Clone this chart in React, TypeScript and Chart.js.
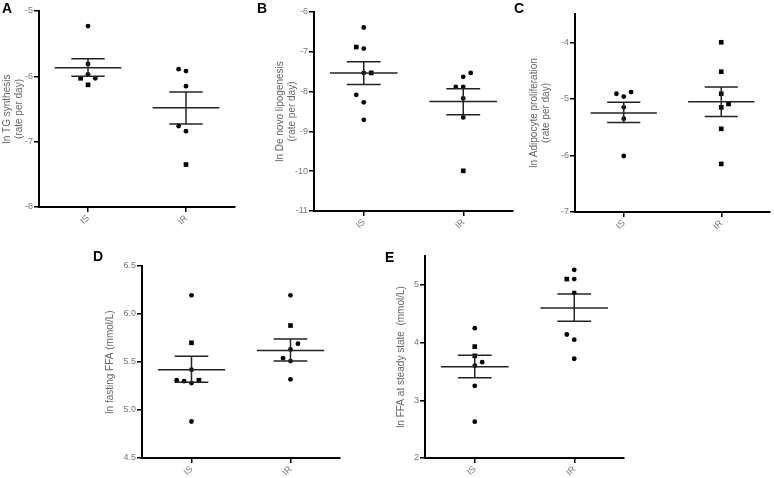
import { useEffect, useRef } from 'react';
import { Chart, registerables } from 'chart.js';

Chart.register(...registerables);

// ---------- DATA ----------
const groups = ['IS', 'IR'];

// A: ln TG synthesis
const tgIS = [-5.23, -5.81, -5.97, -6.03, -6.03, -6.13];
const tgISShape = ['c', 'c', 'c', 's', 'c', 's'];
const tgISJitter = [0, 0, 0, -0.075, 0.075, 0];
const tgIR = [-5.89, -5.92, -6.15, -6.76, -6.84, -7.35];
const tgIRShape = ['c', 'c', 'c', 'c', 'c', 's'];
const tgIRJitter = [-0.075, 0, 0, -0.075, 0, 0];
const tgMean = [-5.87, -6.48];
const tgSemLow = [-6.0, -6.73];
const tgSemHigh = [-5.73, -6.24];

// B: ln De novo lipogenesis
const dnlIS = [-6.39, -6.88, -6.92, -7.53, -7.53, -8.08, -8.27, -8.71];
const dnlISShape = ['c', 's', 'c', 'c', 's', 'c', 'c', 'c'];
const dnlISJitter = [0, -0.075, 0, 0, 0.075, -0.075, 0, 0];
const dnlIR = [-7.53, -7.63, -7.88, -7.88, -8.17, -8.65, -9.99];
const dnlIRShape = ['c', 'c', 'c', 'c', 'c', 'c', 's'];
const dnlIRJitter = [0.075, 0, -0.075, 0, 0, 0, 0];
const dnlMean = [-7.53, -8.25];
const dnlSemLow = [-7.82, -8.58];
const dnlSemHigh = [-7.25, -7.93];

// C: ln Adipocyte proliferation
const apIS = [-4.91, -4.88, -4.96, -5.15, -5.35, -6.01];
const apISShape = ['c', 'c', 'c', 'c', 'c', 'c'];
const apISJitter = [-0.075, 0.075, 0, 0, 0, 0];
const apIR = [-4.0, -4.52, -4.91, -5.15, -5.09, -5.53, -6.15];
const apIRShape = ['s', 's', 's', 's', 's', 's', 's'];
const apIRJitter = [0, 0, 0, 0, 0.075, 0, 0];
const apMean = [-5.25, -5.05];
const apSemLow = [-5.42, -5.31];
const apSemHigh = [-5.06, -4.79];

// D: ln fasting FFA
const ffaIS = [6.195, 5.7, 5.42, 5.31, 5.3, 5.28, 5.31, 4.88];
const ffaISShape = ['c', 's', 'c', 'c', 'c', 'c', 's', 'c'];
const ffaISJitter = [0, 0, 0, -0.15, -0.075, 0, 0.075, 0];
const ffaIR = [6.195, 5.88, 5.69, 5.63, 5.54, 5.51, 5.32];
const ffaIRShape = ['c', 's', 'c', 'c', 'c', 'c', 'c'];
const ffaIRJitter = [0, 0, 0.075, 0, -0.075, 0, 0];
const ffaMean = [5.42, 5.62];
const ffaSemLow = [5.29, 5.51];
const ffaSemHigh = [5.56, 5.74];

// E: ln FFA at steady state
const ssIS = [4.25, 3.93, 3.77, 3.6, 3.66, 3.25, 2.63];
const ssISShape = ['c', 's', 's', 'c', 'c', 'c', 'c'];
const ssISJitter = [0, 0, 0, 0, 0.075, 0, 0];
const ssIR = [5.26, 5.1, 5.1, 4.86, 4.14, 4.05, 3.72];
const ssIRShape = ['c', 's', 'c', 'c', 'c', 'c', 'c'];
const ssIRJitter = [0, -0.075, 0, 0, -0.075, 0, 0];
const ssMean = [3.58, 4.6];
const ssSemLow = [3.39, 4.37];
const ssSemHigh = [3.78, 4.84];

// ---------- LAYOUT ----------
type Panel = {
  letter: string;
  letterPos: { left: number; top: number };
  canvas: { left: number; top: number; width: number; height: number };
  area: { left: number; top: number; right: number; bottom: number };
  titlePad: number;
  yTitle: string | string[];
  yMin: number;
  yMax: number;
  yStep: number;
  decimals: number;
  values: number[][];
  shapes: string[][];
  jitters: number[][];
  mean: number[];
  semLow: number[];
  semHigh: number[];
};

const panels: Panel[] = [
  {
    letter: 'A',
    letterPos: { left: 2, top: 1 },
    canvas: { left: 0, top: 0, width: 250, height: 240 },
    area: { left: 39, top: 11, right: 235, bottom: 207 },
    titlePad: 1,
    yTitle: ['ln TG synthesis', '(rate per day)'],
    yMin: -8, yMax: -5, yStep: 1, decimals: 0,
    values: [tgIS, tgIR], shapes: [tgISShape, tgIRShape], jitters: [tgISJitter, tgIRJitter],
    mean: tgMean, semLow: tgSemLow, semHigh: tgSemHigh,
  },
  {
    letter: 'B',
    letterPos: { left: 257, top: 1 },
    canvas: { left: 250, top: 0, width: 268, height: 240 },
    area: { left: 314, top: 12, right: 513, bottom: 211 },
    titlePad: 24,
    yTitle: ['ln De novo lipogenesis', '(rate per day)'],
    yMin: -11, yMax: -6, yStep: 1, decimals: 0,
    values: [dnlIS, dnlIR], shapes: [dnlISShape, dnlIRShape], jitters: [dnlISJitter, dnlIRJitter],
    mean: dnlMean, semLow: dnlSemLow, semHigh: dnlSemHigh,
  },
  {
    letter: 'C',
    letterPos: { left: 514, top: 1 },
    canvas: { left: 520, top: 0, width: 254, height: 240 },
    area: { left: 575, top: 14, right: 773, bottom: 212 },
    titlePad: 8,
    yTitle: ['ln Adipocyte proliferation', '(rate per day)'],
    yMin: -7, yMax: -3.5, yStep: 1, decimals: 0,
    values: [apIS, apIR], shapes: [apISShape, apIRShape], jitters: [apISJitter, apIRJitter],
    mean: apMean, semLow: apSemLow, semHigh: apSemHigh,
  },
  {
    letter: 'D',
    letterPos: { left: 93, top: 249 },
    canvas: { left: 90, top: 240, width: 260, height: 238 },
    area: { left: 142, top: 266, right: 340, bottom: 458 },
    titlePad: 14,
    yTitle: 'ln fasting FFA (mmol/L)',
    yMin: 4.5, yMax: 6.5, yStep: 0.5, decimals: 1,
    values: [ffaIS, ffaIR], shapes: [ffaISShape, ffaIRShape], jitters: [ffaISJitter, ffaIRJitter],
    mean: ffaMean, semLow: ffaSemLow, semHigh: ffaSemHigh,
  },
  {
    letter: 'E',
    letterPos: { left: 385, top: 250 },
    canvas: { left: 370, top: 240, width: 270, height: 238 },
    area: { left: 425, top: 256, right: 624, bottom: 458 },
    titlePad: 25,
    yTitle: 'ln FFA at steady state  (mmol/L)',
    yMin: 2, yMax: 5.5, yStep: 1, decimals: 0,
    values: [ssIS, ssIR], shapes: [ssISShape, ssIRShape], jitters: [ssISJitter, ssIRJitter],
    mean: ssMean, semLow: ssSemLow, semHigh: ssSemHigh,
  },
];

const FONT = 'Arial, "Liberation Sans", sans-serif';
const MEAN_HALF = 0.34;
const CAP_HALF = 0.17;

function segment(points: { x: number; y: number }[]) {
  return {
    type: 'scatter' as const,
    data: points,
    showLine: true,
    borderColor: '#222',
    borderWidth: 1.5,
    pointRadius: 0,
    fill: false,
  };
}

function buildConfig(p: Panel): any {
  const datasets: any[] = [];
  // error bars
  for (let g = 0; g < 2; g++) {
    datasets.push(segment([{ x: g - MEAN_HALF, y: p.mean[g] }, { x: g + MEAN_HALF, y: p.mean[g] }]));
    datasets.push(segment([{ x: g - CAP_HALF, y: p.semHigh[g] }, { x: g + CAP_HALF, y: p.semHigh[g] }]));
    datasets.push(segment([{ x: g - CAP_HALF, y: p.semLow[g] }, { x: g + CAP_HALF, y: p.semLow[g] }]));
    datasets.push(segment([{ x: g, y: p.semLow[g] }, { x: g, y: p.semHigh[g] }]));
  }
  // individual points
  for (let g = 0; g < 2; g++) {
    const vals = p.values[g];
    datasets.push({
      type: 'scatter',
      data: vals.map((v, i) => ({ x: g + p.jitters[g][i], y: v })),
      pointStyle: p.shapes[g].map((s) => (s === 's' ? 'rect' : 'circle')),
      pointRadius: p.shapes[g].map((s) => (s === 's' ? 3.3 : 2.4)),
      backgroundColor: '#000',
      borderWidth: 0,
      showLine: false,
    });
  }

  const yWidth = p.area.left - p.canvas.left;
  const xHeight = p.canvas.top + p.canvas.height - p.area.bottom;

  return {
    type: 'scatter',
    data: { datasets },
    options: {
      animation: false,
      responsive: false,
      events: [],
      layout: {
        padding: {
          left: 0,
          top: p.area.top - p.canvas.top,
          right: p.canvas.left + p.canvas.width - p.area.right,
          bottom: 0,
        },
      },
      plugins: { legend: { display: false }, tooltip: { enabled: false }, title: { display: false } },
      scales: {
        x: {
          type: 'linear',
          min: -0.5,
          max: 1.5,
          afterBuildTicks: (scale: any) => {
            scale.ticks = groups.map((_, i) => ({ value: i }));
          },
          afterFit: (scale: any) => {
            scale.height = xHeight;
            scale.paddingLeft = 0;
            scale.paddingRight = 0;
            scale.paddingTop = 0;
            scale.paddingBottom = 0;
          },
          ticks: {
            autoSkip: false,
            minRotation: 45,
            maxRotation: 45,
            padding: 1,
            color: '#777',
            font: { family: FONT, size: 9 },
            callback: (v: number) => groups[v] ?? '',
          },
          grid: { display: true, drawOnChartArea: false, drawTicks: true, tickLength: 5, color: '#000', lineWidth: 1.5 },
          border: { display: true, color: '#000', width: 2 },
        },
        y: {
          type: 'linear',
          min: p.yMin,
          max: p.yMax,
          afterBuildTicks: (scale: any) => {
            scale.ticks = scale.ticks.filter((t: any) => Math.abs(t.value / p.yStep - Math.round(t.value / p.yStep)) < 1e-6);
          },
          afterFit: (scale: any) => {
            scale.width = yWidth;
            scale.paddingLeft = 0;
            scale.paddingRight = 0;
            scale.paddingTop = 0;
            scale.paddingBottom = 0;
          },
          ticks: {
            stepSize: p.yStep,
            padding: 1,
            color: '#777',
            font: { family: FONT, size: 9 },
            callback: (v: number) => v.toFixed(p.decimals),
          },
          title: {
            display: true,
            text: p.yTitle,
            color: '#666',
            font: { family: FONT, size: 10, lineHeight: 1.2 },
            padding: { top: p.titlePad, bottom: 0 },
          },
          grid: { display: true, drawOnChartArea: false, drawTicks: true, tickLength: 5, color: '#000', lineWidth: 1.5 },
          border: { display: true, color: '#000', width: 2 },
        },
      },
    },
  };
}

function PanelChart({ p }: { p: Panel }) {
  const ref = useRef<HTMLCanvasElement | null>(null);
  useEffect(() => {
    if (!ref.current) return;
    const chart = new Chart(ref.current, buildConfig(p));
    return () => chart.destroy();
  }, [p]);
  return (
    <>
      <canvas
        ref={ref}
        width={p.canvas.width}
        height={p.canvas.height}
        style={{
          position: 'absolute',
          left: p.canvas.left,
          top: p.canvas.top,
          width: p.canvas.width,
          height: p.canvas.height,
        }}
      />
      <div
        style={{
          position: 'absolute',
          left: p.letterPos.left,
          top: p.letterPos.top,
          font: `bold 14px ${FONT}`,
          lineHeight: '14px',
          color: '#000',
        }}
      >
        {p.letter}
      </div>
    </>
  );
}

export default function App() {
  return (
    <div
      style={{
        position: 'absolute',
        left: 0,
        top: 0,
        width: 774,
        height: 478,
        background: '#fff',
        overflow: 'hidden',
      }}
    >
      {panels.map((p) => (
        <PanelChart key={p.letter} p={p} />
      ))}
    </div>
  );
}
